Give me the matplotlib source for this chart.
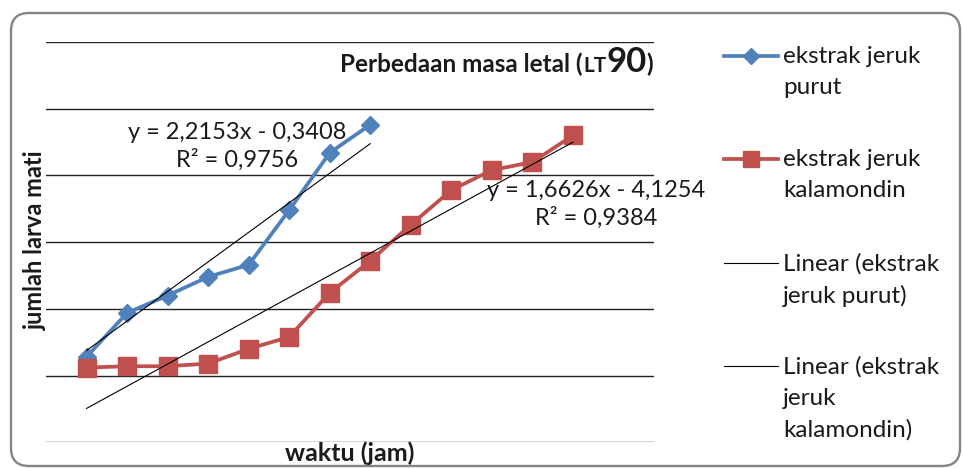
import matplotlib
matplotlib.use("Agg")
import matplotlib.pyplot as plt
from matplotlib.lines import Line2D
from matplotlib.patches import FancyBboxPatch
from matplotlib.offsetbox import TextArea, HPacker, AnnotationBbox

plt.rcParams['font.family'] = ['Lato', 'DejaVu Sans']

# jam pengamatan dan jumlah larva mati
jam_purut = [1, 2, 3, 4, 5, 6, 7, 8]
larva_purut = [1.4, 4.7, 6.0, 7.4, 8.3, 12.4, 16.7, 18.8]

jam_kalamondin = [1, 2, 3, 4, 5, 6, 7, 8, 9, 10, 11, 12, 13]
larva_kalamondin = [0.6, 0.7, 0.7, 0.9, 2.0, 2.9, 6.2, 8.6, 11.3, 13.9, 15.4, 16.0, 18.0]

# koefisien regresi linear (slope, intercept, R2)
reg_purut = (2.2153, -0.3408, 0.9756)
reg_kalamondin = (1.6626, -4.1254, 0.9384)

label_purut = "ekstrak jeruk\npurut"
label_kalamondin = "ekstrak jeruk\nkalamondin"
label_lin_purut = "Linear (ekstrak\njeruk purut)"
label_lin_kalamondin = "Linear (ekstrak\njeruk\nkalamondin)"

BIRU = '#4F81BD'
MERAH = '#C0504D'
TEKS = '#1a1a1a'

W, H = 963, 469
fig = plt.figure(figsize=(W / 100, H / 100), dpi=100)

# area plot utama
ax = fig.add_axes([46 / W, (H - 442.3) / H, 608 / W, 400.3 / H])
ax.set_xlim(0, 15)
ax.set_ylim(-5, 25)
ax.set_yticks(range(-5, 26, 5))
ax.set_xticks([])
ax.tick_params(left=False, labelleft=False)
for s in ax.spines.values():
    s.set_visible(False)
ax.grid(axis='y', color='#222222', lw=1.0)
ax.set_axisbelow(True)


def garis_tren(jam, reg):
    a, b, _ = reg
    xs = [jam[0], jam[-1]]
    return xs, [a * x + b for x in xs]


def teks_reg(reg):
    a, b, r2 = reg
    tanda = '-' if b < 0 else '+'
    s = f"y = {a:.4f}x {tanda} {abs(b):.4f}\nR² = {r2:.4f}"
    return s.replace('.', ',')


# label persamaan regresi
ax.text(4.71, 17.2, teks_reg(reg_purut), ha='center', va='center',
        fontsize=17, color=TEKS, linespacing=1.3, zorder=1)
ax.text(13.57, 12.8, teks_reg(reg_kalamondin), ha='center', va='center',
        fontsize=17, color=TEKS, linespacing=1.3, zorder=1, clip_on=False)

ax.plot(jam_purut, larva_purut, color=BIRU, lw=2.7, marker='D', ms=9.5,
        zorder=3)
ax.plot(jam_kalamondin, larva_kalamondin, color=MERAH, lw=2.7, marker='s',
        ms=13, zorder=3)

xs, ys = garis_tren(jam_purut, reg_purut)
ax.plot(xs, ys, color='black', lw=0.8, zorder=4)
xs, ys = garis_tren(jam_kalamondin, reg_kalamondin)
ax.plot(xs, ys, color='black', lw=0.8, zorder=4)

# kanvas piksel untuk judul, label sumbu, legenda dan bingkai
cv = fig.add_axes([0, 0, 1, 1], facecolor='none')
cv.set_xlim(0, W)
cv.set_ylim(H, 0)
cv.axis('off')

cv.add_patch(FancyBboxPatch((11, 13), 949, 453,
                            boxstyle='round,pad=0,rounding_size=18',
                            fc='none', ec='#858585', lw=1.7))

judul = HPacker(children=[
    TextArea("Perbedaan masa letal (", textprops=dict(fontsize=17.5, fontweight='bold', color=TEKS)),
    TextArea("LT", textprops=dict(fontsize=15, fontweight='bold', color=TEKS)),
    TextArea("90", textprops=dict(fontsize=25, fontweight='bold', color=TEKS)),
    TextArea(")", textprops=dict(fontsize=17.5, fontweight='bold', color=TEKS)),
], align='baseline', pad=0, sep=0)
cv.add_artist(AnnotationBbox(judul, (653, 62), xycoords='data',
                             box_alignment=(1, 0.5), frameon=False, pad=0))

cv.text(35, 240, "jumlah larva mati", rotation=90, ha='center', va='center',
        fontsize=17, fontweight='bold', color=TEKS)
cv.text(350, 453, "waktu (jam)", ha='center', va='center',
        fontsize=18, fontweight='bold', color=TEKS)

# legenda
x0, x1, xt = 724, 778, 783
entri = [
    (56, dict(color=BIRU, lw=2.7), dict(marker='D', ms=8), label_purut),
    (159, dict(color=MERAH, lw=2.7), dict(marker='s', ms=12), label_kalamondin),
    (263, dict(color='black', lw=0.8), None, label_lin_purut),
    (366, dict(color='black', lw=0.8), None, label_lin_kalamondin),
]
for y, gaya, penanda, teks in entri:
    cv.add_line(Line2D([x0, x1], [y, y], **gaya))
    if penanda:
        cv.plot([(x0 + x1) / 2], [y], ls='none', color=gaya['color'], **penanda)
    cv.text(xt, y - 10, teks, ha='left', va='top', fontsize=17.5,
            color=TEKS, linespacing=1.6)

fig.savefig('out.png', dpi=100)
